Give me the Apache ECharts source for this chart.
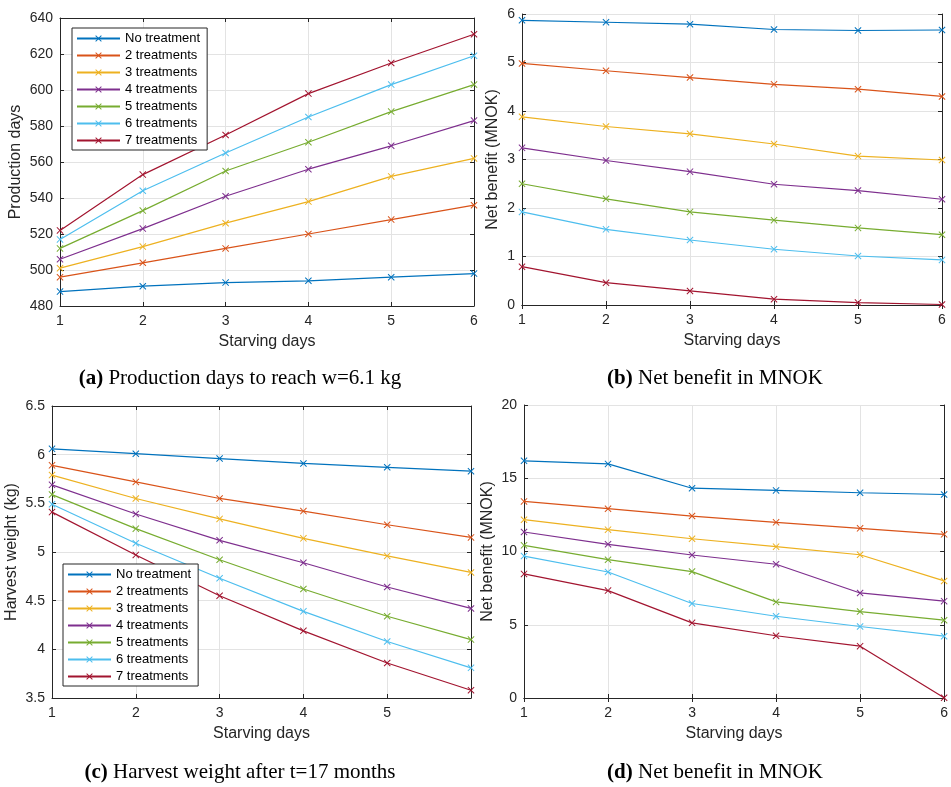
<!DOCTYPE html>
<html>
<head>
<meta charset="utf-8">
<script src="https://cdn.jsdelivr.net/npm/echarts@6/dist/echarts.min.js"></script>
<style>html,body{margin:0;padding:0;background:#fff;}#c{width:951px;height:787px;}</style>
</head>
<body>
<div id="c"></div>
<script>
const days = [1, 2, 3, 4, 5, 6];
const seriesNames = ['No treatment', '2 treatments', '3 treatments', '4 treatments', '5 treatments', '6 treatments', '7 treatments'];
const colors = ['#0072BD', '#D95319', '#EDB120', '#7E2F8E', '#77AC30', '#4DBEEE', '#A2142F'];

// (a) Production days to reach w=6.1 kg
const productionDays = [
  [488, 491, 493, 494, 496, 498],
  [496, 504, 512, 520, 528, 536],
  [501, 513, 526, 538, 552, 562],
  [506, 523, 541, 556, 569, 583],
  [512, 533, 555, 571, 588, 603],
  [517, 544, 565, 585, 603, 619],
  [522, 553, 575, 598, 615, 631]
];
// (b) Net benefit in MNOK
const netBenefitB = [
  [5.87, 5.83, 5.79, 5.68, 5.66, 5.67],
  [4.98, 4.83, 4.69, 4.55, 4.45, 4.30],
  [3.88, 3.68, 3.53, 3.32, 3.07, 2.99],
  [3.24, 2.98, 2.75, 2.49, 2.36, 2.18],
  [2.50, 2.19, 1.92, 1.75, 1.59, 1.45],
  [1.92, 1.56, 1.34, 1.15, 1.01, 0.93],
  [0.79, 0.46, 0.29, 0.12, 0.05, 0.01]
];
// (c) Harvest weight after t=17 months
const harvestWeight = [
  [6.06, 6.01, 5.96, 5.91, 5.87, 5.83],
  [5.89, 5.72, 5.55, 5.42, 5.28, 5.15],
  [5.79, 5.55, 5.34, 5.14, 4.96, 4.79],
  [5.69, 5.39, 5.12, 4.89, 4.64, 4.42],
  [5.59, 5.24, 4.92, 4.62, 4.34, 4.10],
  [5.49, 5.09, 4.73, 4.39, 4.08, 3.81],
  [5.41, 4.97, 4.55, 4.19, 3.86, 3.58]
];
// (d) Net benefit in MNOK
const netBenefitD = [
  [16.19, 15.98, 14.32, 14.17, 14.01, 13.89],
  [13.42, 12.92, 12.42, 11.99, 11.58, 11.17],
  [12.17, 11.49, 10.87, 10.33, 9.78, 7.99],
  [11.33, 10.49, 9.76, 9.13, 7.17, 6.61],
  [10.42, 9.44, 8.63, 6.56, 5.90, 5.31],
  [9.69, 8.60, 6.45, 5.58, 4.88, 4.22],
  [8.47, 7.33, 5.13, 4.25, 3.54, 0.02]
];

const xTitle = 'Starving days';
const yTitles = ['Production days', 'Net benefit (MNOK)', 'Harvest weight (kg)', 'Net benefit (MNOK)'];
const yRanges = [[480, 640, 20], [0, 6, 1], [3.5, 6.5, 0.5], [0, 20, 5]];
const captions = [
  ['a', 'Production days to reach w=6.1 kg'],
  ['b', 'Net benefit in MNOK'],
  ['c', 'Harvest weight after t=17 months'],
  ['d', 'Net benefit in MNOK']
];
const panelData = [productionDays, netBenefitB, harvestWeight, netBenefitD];

const grids = [
  { left: 60, right: 477, top: 18, bottom: 481 },
  { left: 522, right: 9, top: 14, bottom: 482 },
  { left: 52, right: 480, top: 406, bottom: 89 },
  { left: 524, right: 4, top: 405, bottom: 89 }
];
const yNameGaps = [36, 21, 32, 28];

const txt = '#262626';
const font = 'Liberation Sans, Arial, Helvetica, sans-serif';
const serif = 'Liberation Serif, Times New Roman, serif';
const xSym = 'path://M0,1L1,0L5,4L9,0L10,1L6,5L10,9L9,10L5,6L1,10L0,9L4,5Z';

const xAxes = [], yAxes = [], series = [], titles = [];
grids.forEach((g, i) => {
  const lineC = { show: true, lineStyle: { color: txt, width: 1 } };
  xAxes.push({
    type: 'value', gridIndex: i, min: 1, max: 6, interval: 1, position: 'bottom',
    name: xTitle, nameLocation: 'middle', nameGap: 28,
    nameTextStyle: { color: txt, fontSize: 16, fontFamily: font },
    axisLine: lineC, axisTick: { inside: true, length: 4, lineStyle: { color: txt } },
    axisLabel: { color: txt, fontSize: 14, fontFamily: font, margin: 8,
      formatter: v => (i === 2 && v === 6) ? '' : String(v) },
    splitLine: { show: true, lineStyle: { color: '#e3e3e3', width: 1 } }
  });
  xAxes.push({
    type: 'value', gridIndex: i, min: 1, max: 6, interval: 1, position: 'top',
    axisLine: lineC, axisTick: { inside: true, length: 4, lineStyle: { color: txt } },
    axisLabel: { show: false }, splitLine: { show: false }
  });
  const r = yRanges[i];
  yAxes.push({
    type: 'value', gridIndex: i, min: r[0], max: r[1], interval: r[2], position: 'left',
    name: yTitles[i], nameLocation: 'middle', nameGap: yNameGaps[i], nameRotate: 90,
    nameTextStyle: { color: txt, fontSize: 16, fontFamily: font },
    axisLine: lineC, axisTick: { inside: true, length: 4, lineStyle: { color: txt } },
    axisLabel: { color: txt, fontSize: 14, fontFamily: font, margin: 7 },
    splitLine: { show: true, lineStyle: { color: '#e3e3e3', width: 1 } }
  });
  yAxes.push({
    type: 'value', gridIndex: i, min: r[0], max: r[1], interval: r[2], position: 'right',
    axisLine: lineC, axisTick: { inside: true, length: 4, lineStyle: { color: txt } },
    axisLabel: { show: false }, splitLine: { show: false }
  });
  panelData[i].forEach((vals, k) => {
    series.push({
      type: 'line', name: seriesNames[k], xAxisIndex: i * 2, yAxisIndex: i * 2,
      data: days.map((d, j) => [d, vals[j]]),
      symbol: xSym, symbolSize: 7, showAllSymbol: true, clip: false,
      lineStyle: { color: colors[k], width: 1.2 },
      itemStyle: { color: colors[k] },
      emphasis: { disabled: true }, animation: false, z: 3
    });
  });
  const cx = [240, 715, 240, 715][i];
  const cy = [380, 380, 774, 774][i];
  titles.push({
    text: '{b|(' + captions[i][0] + ')} ' + captions[i][1],
    left: cx, top: cy - 12, textAlign: 'center', padding: 0,
    textStyle: { fontFamily: serif, fontSize: 21, fontWeight: 'normal', color: '#000',
      rich: { b: { fontFamily: serif, fontSize: 21, fontWeight: 'bold', color: '#000' } } }
  });
});

const legendBase = {
  orient: 'vertical', data: seriesNames, itemWidth: 43, itemHeight: 8, itemGap: 4,
  backgroundColor: '#fff', borderColor: txt, borderWidth: 1, padding: [4, 7, 3, 4],
  textStyle: { color: '#000', fontSize: 13, fontFamily: font },
  selectedMode: false
};

const chart = echarts.init(document.getElementById('c'), null, { renderer: 'canvas' });
chart.setOption({
  animation: false,
  backgroundColor: '#fff',
  title: titles,
  grid: grids.map(g => Object.assign({ containLabel: false, show: false }, g)),
  xAxis: xAxes,
  yAxis: yAxes,
  legend: [
    Object.assign({}, legendBase, { left: 72, top: 28 }),
    Object.assign({}, legendBase, { left: 63, top: 564 })
  ],
  series: series
});
</script>
</body>
</html>
